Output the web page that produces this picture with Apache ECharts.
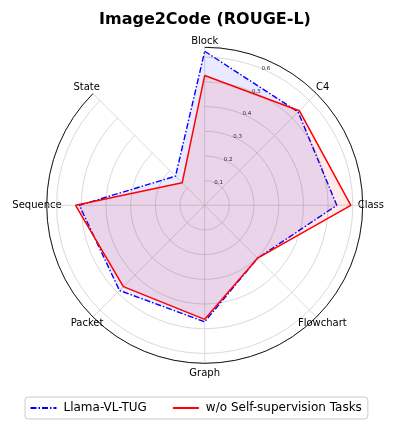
<!DOCTYPE html>
<html>
<head>
<meta charset="utf-8">
<script src="https://cdn.jsdelivr.net/npm/echarts@6/dist/echarts.min.js"></script>
<style>
html,body{margin:0;padding:0;background:#fff;}
#chart{width:397px;height:430px;}
</style>
</head>
<body>
<div id="chart"></div>
<script>
// ---- data ----
const categories = ['Block', 'C4', 'Class', 'Flowchart', 'Graph', 'Packet', 'Sequence', 'State'];
const llamaVLTUG = [0.624, 0.535, 0.535, 0.303, 0.472, 0.488, 0.508, 0.167];
const woSelfSupervision = [0.526, 0.542, 0.592, 0.303, 0.462, 0.466, 0.523, 0.129];
const radialTickLabels = ['0.1', '0.2', '0.3', '0.4', '0.5', '0.6'];
const seriesNames = ['Llama-VL-TUG', 'w/o Self-supervision Tasks'];
const radiusMax = 0.64;

// ---- build ----
const FONT = 'DejaVu Sans';
const CENTER = [204.7, 205.3];
const RADIUS = 158;
const STEP = 360 / categories.length;

// per-label padding so that names are centred just outside the outer circle
const labelPad = {
  'Block':     [0, 0, 30.5, 0],
  'C4':        [0, 0, 22, 20.8],
  'Class':     [0, 0, 0, 25],
  'Flowchart': [23, 0, 0, 2.7],
  'Graph':     [35.5, 0, 0, 0],
  'Packet':    [23, 10.75, 0, 0],
  'Sequence':  [0, 15, 0, 0],
  'State':     [0, 14.25, 22.5, 0]
};

// data points as [radius, angle-in-degrees] on a clockwise value angle axis, closed loop
function closed(values) {
  const d = categories.map((c, i) => [values[i], i * STEP]);
  d.push([values[0], 360]);
  return d;
}

const chart = echarts.init(document.getElementById('chart'), null, {renderer: 'canvas'});
chart.setOption({
  backgroundColor: '#fff',
  animation: false,
  textStyle: {fontFamily: FONT},
  title: {
    text: 'Image2Code (ROUGE-L)',
    left: 94, top: 7,
    textStyle: {fontFamily: FONT, fontWeight: 'bold', fontSize: 16, color: '#000'}
  },
  legend: {
    data: seriesNames,
    left: 25, top: 397,
    padding: [5, 6, 5, 4.5],
    itemWidth: 26, itemHeight: 12, itemGap: 25,
    borderColor: '#cccccc', borderWidth: 1, borderRadius: 3,
    itemStyle: {opacity: 0},
    textStyle: {fontFamily: FONT, fontSize: 12, color: '#000', padding: [0, 0, 0, 2]}
  },
  polar: [
    {center: CENTER, radius: RADIUS},
    {center: CENTER, radius: RADIUS},
    {center: CENTER, radius: RADIUS}
  ],
  angleAxis: [
    {
      polarIndex: 0,
      type: 'category',
      data: categories.map(c => ({value: c, textStyle: {padding: labelPad[c]}})),
      boundaryGap: false,
      startAngle: 90,
      clockwise: true,
      axisLine: {show: true, lineStyle: {color: '#000', width: 0.9}},
      axisTick: {show: false},
      axisLabel: {margin: -30, fontFamily: FONT, fontSize: 10, color: '#000'},
      splitLine: {show: true, lineStyle: {color: '#cfcfcf', width: 0.8}}
    },
    {
      polarIndex: 1,
      type: 'value', min: 0, max: 360,
      startAngle: 67.5, clockwise: true,
      show: false
    },
    {
      polarIndex: 2,
      type: 'value', min: 0, max: 360,
      startAngle: 90, clockwise: true,
      show: false
    }
  ],
  radiusAxis: [
    {
      polarIndex: 0,
      type: 'value', min: 0, max: radiusMax, interval: 0.1,
      axisLine: {show: false}, axisTick: {show: false}, axisLabel: {show: false},
      splitLine: {show: true, lineStyle: {color: '#cfcfcf', width: 0.8}}
    },
    {
      polarIndex: 1,
      type: 'value', min: 0, max: radiusMax, interval: 0.1,
      axisLine: {show: false}, axisTick: {show: false},
      splitLine: {show: false},
      axisLabel: {
        show: true, margin: 0, align: 'center', verticalAlign: 'middle',
        fontFamily: FONT, fontSize: 5.5, color: '#222',
        padding: [0, 0, 9, 9],
        showMinLabel: false, showMaxLabel: false,
        formatter: function (v) {
          const s = (Math.round(v * 10) / 10).toFixed(1);
          return radialTickLabels.indexOf(s) >= 0 ? s : '';
        }
      }
    },
    {
      polarIndex: 2,
      type: 'value', min: 0, max: radiusMax,
      show: false
    }
  ],
  series: [
    {
      name: seriesNames[0],
      type: 'line', coordinateSystem: 'polar', polarIndex: 2,
      data: closed(llamaVLTUG),
      symbol: 'none', clip: false,
      lineStyle: {color: '#0000ff', width: 1.4, type: [6, 2, 1.5, 2]},
      itemStyle: {color: '#0000ff'},
      areaStyle: {color: 'rgba(0,0,255,0.12)'},
      z: 2
    },
    {
      name: seriesNames[1],
      type: 'line', coordinateSystem: 'polar', polarIndex: 2,
      data: closed(woSelfSupervision),
      symbol: 'none', clip: false,
      lineStyle: {color: '#ff0000', width: 1.5},
      itemStyle: {color: '#ff0000'},
      areaStyle: {color: 'rgba(255,0,0,0.12)'},
      z: 3
    }
  ]
});
</script>
</body>
</html>
